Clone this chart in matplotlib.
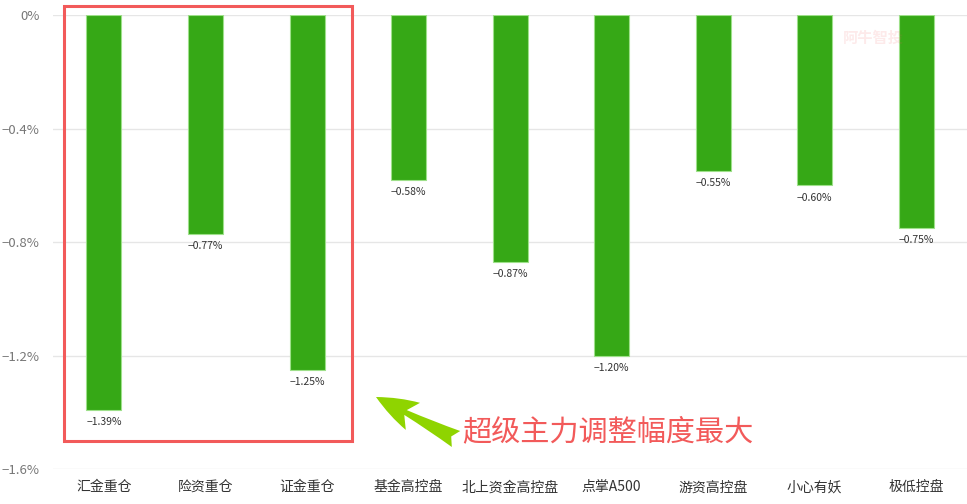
import matplotlib.pyplot as plt
from matplotlib.patches import Rectangle
from matplotlib.ticker import FuncFormatter

plt.rcParams['font.family'] = ['Noto Sans CJK SC', 'DejaVu Sans']
plt.rcParams['axes.unicode_minus'] = True

# 各类资金/策略的调整幅度（%）
categories = ['汇金重仓', '险资重仓', '证金重仓', '基金高控盘', '北上资金高控盘',
              '点掌A500', '游资高控盘', '小心有妖', '极低控盘']
changes = [-1.39, -0.77, -1.25, -0.58, -0.87, -1.20, -0.55, -0.60, -0.75]
yticks = [0, -0.4, -0.8, -1.2, -1.6]

fig = plt.figure(figsize=(9.67, 5.04), dpi=100)
ax = fig.add_axes([0.055, 0.069, 0.945, 0.901])

x = range(len(categories))
ax.bar(x, changes, width=0.345, color='#36a816', edgecolor='#9ee08a', linewidth=0.8, zorder=3)

for i, v in enumerate(changes):
    ax.text(i, v - 0.025, f'{v:.2f}%'.replace('-', '−'), ha='center', va='top',
            fontsize=7.5, color='#333333', zorder=4)

ax.set_xlim(-0.5, len(categories) - 0.5)
ax.set_ylim(-1.6, 0)
ax.set_yticks(yticks)
ax.yaxis.set_major_formatter(FuncFormatter(lambda v, p: '0%' if v == 0 else f'{v:.1f}%'.replace('-', '−')))
ax.set_xticks(list(x))
ax.set_xticklabels(categories, fontsize=10, color='#333333')
ax.tick_params(axis='y', length=0, labelsize=9.5, labelcolor='#777777', pad=10)
ax.tick_params(axis='x', length=0, pad=8)
ax.grid(True, axis='y', color='#e6e6e6', linewidth=1, zorder=0)
for s in ax.spines.values():
    s.set_visible(False)

# 红色框 + 箭头 + 说明文字
fig.patches.append(Rectangle((64, 504 - 441), 288, 435, transform=None, fill=False,
                             edgecolor='#f25a5a', linewidth=2.2, zorder=5))
ax.annotate('', xy=(376, 504 - 397), xytext=(456, 504 - 439),
            xycoords='figure pixels', textcoords='figure pixels',
            arrowprops=dict(arrowstyle='fancy,head_length=3.0,head_width=2.2,tail_width=1.3',
                            color='#8fd400', lw=0, shrinkA=0, shrinkB=0))
fig.text(462, 504 - 432, '超级主力调整幅度最大', transform=None, fontsize=21,
         color='#f25a5a', va='center', ha='left')

# 水印
fig.text(843, 504 - 38, '阿牛智投', transform=None, fontsize=11, color='#f25a5a',
         alpha=0.12, va='center', ha='left', fontweight='bold')

fig.savefig('out.png', dpi=100)
